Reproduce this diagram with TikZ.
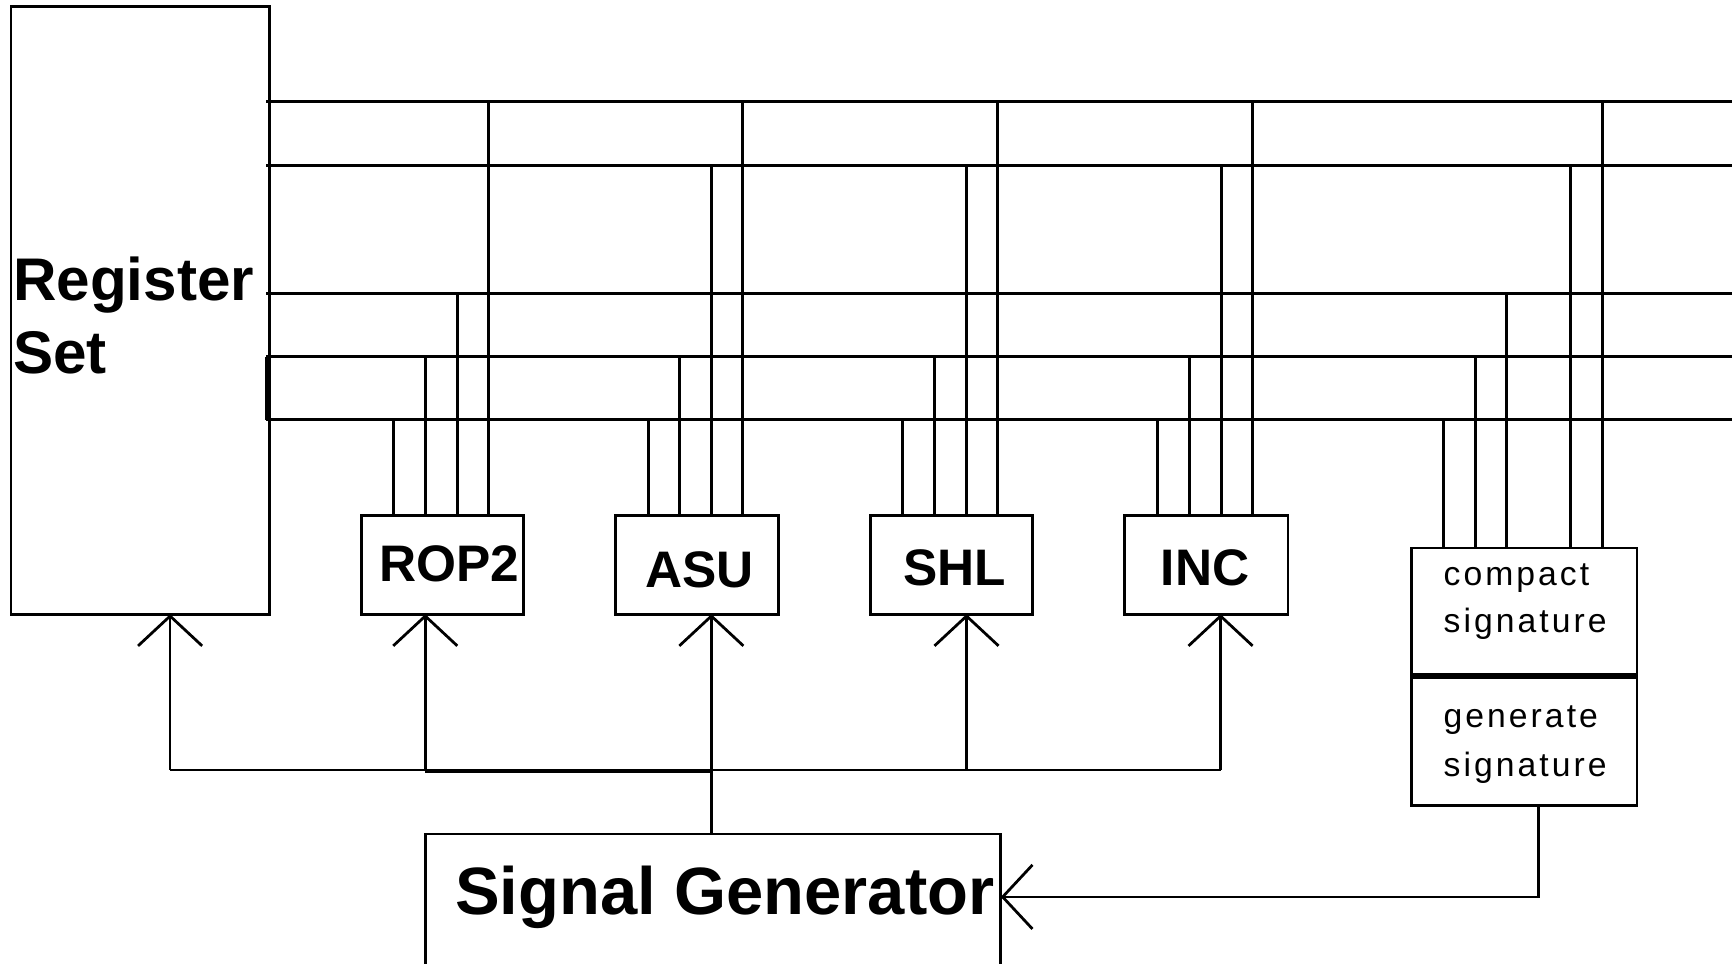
\documentclass[tikz,border=0pt]{standalone}
\usepackage{fontspec}
\setmainfont{Liberation Sans}
\usetikzlibrary{arrows.meta}
\begin{document}
\begin{tikzpicture}[x=1pt,y=-1pt,line width=2.5pt,
  box/.style={draw,inner sep=0pt,outer sep=0pt,anchor=north west},
  lbl/.style={inner sep=0pt,outer sep=0pt},
  big/.style={lbl,font=\fontsize{54.5}{66}\selectfont\bfseries},
  unit/.style={lbl,font=\fontsize{46.5}{52}\selectfont\bfseries},
  sgfont/.style={lbl,font=\fontsize{60.6}{70}\selectfont\bfseries},
  small/.style={lbl,font=\fontsize{30.5}{42}\selectfont\addfontfeature{LetterSpace=9}},
  ctl/.style={-{Straight Barb[length=27pt,width=58pt]}}]
\useasboundingbox (0,0) rectangle (1568,872);
\clip (0,0) rectangle (1568,872);
% boxes
\node[box,minimum width=234pt,minimum height=550pt] (reg) at (10,6) {};
\node[box,minimum width=147pt,minimum height=89pt] (rop) at (327,467) {};
\node[box,minimum width=148pt,minimum height=89pt] (asu) at (557,467) {};
\node[box,minimum width=147pt,minimum height=89pt] (shl) at (788,467) {};
\node[box,minimum width=148pt,minimum height=89pt] (inc) at (1018,467) {};
\node[box,minimum width=204pt,minimum height=116pt] (cmp) at (1278,496) {};
\node[box,minimum width=204pt,minimum height=117pt] (gen) at (1278,612) {};
\draw[line width=4.8pt] (cmp.south west) -- (cmp.south east);
\node[box,minimum width=521pt,minimum height=160pt] (sg) at (385,755) {};
% labels
\node[big,anchor=base west] (regT) at (12,272) {Register};
\node[big,anchor=base west] (setT) at (12,338) {Set};
\node[unit,anchor=base] (ropT) at (406.5,526) {ROP2};
\node[unit,anchor=base] (asuT) at (633.5,532) {ASU};
\node[unit,anchor=base] (shlT) at (864,530) {SHL};
\node[unit,anchor=base] (incT) at (1091,530) {INC};
\node[sgfont,anchor=base west] (sgT) at (412,828) {Signal Generator};
\node[small,anchor=base west] (c1) at (1307,530) {compact};
\node[small,anchor=base west] (c2) at (1307,573) {signature};
\node[small,anchor=base west] (g1) at (1307,659) {generate};
\node[small,anchor=base west] (g2) at (1307,703) {signature};
% buses
\coordinate (b1) at (241,92);
\coordinate (b2) at (241,150);
\coordinate (b3) at (241,266);
\coordinate (b4) at (241,323);
\coordinate (b5) at (241,380);
\foreach \b in {b1,b2,b3,b4,b5} \draw (\b) -- ++(1327,0);
\draw (b4) -- (b5);
% taps
\foreach \x/\b in {356/b5,385/b4,414/b3,442/b1} \draw (\x,0 |- rop.north) -- (\x,0 |- \b);
\foreach \x/\b in {587/b5,615/b4,644/b2,672/b1} \draw (\x,0 |- asu.north) -- (\x,0 |- \b);
\foreach \x/\b in {817/b5,846/b4,875/b2,903/b1} \draw (\x,0 |- shl.north) -- (\x,0 |- \b);
\foreach \x/\b in {1048/b5,1077/b4,1106/b2,1134/b1} \draw (\x,0 |- inc.north) -- (\x,0 |- \b);
\foreach \x/\b in {1307/b5,1336/b4,1364/b3,1422/b2,1451/b1} \draw (\x,0 |- cmp.north) -- (\x,0 |- \b);
% control lines
\coordinate (cl) at (154,697);
\coordinate (cr) at (1105,697);
\coordinate (cm1) at (385,697);
\coordinate (cm2) at (644,697);
\draw (cl) -- (cr);
\draw ([yshift=-1.2pt]cm1) -- ([yshift=-1.2pt]cm2);
\draw (644,0 |- sg.north) -- (cm2);
\foreach \x/\n in {154/reg,385/rop,644/asu,875/shl,1105/inc} \draw[ctl] (\x,0 |- cl) -- (\x,0 |- \n.south);
% feedback
\draw[ctl] (1393,0 |- gen.south) |- (sg.east |- 0,812);
\end{tikzpicture}
\end{document}
